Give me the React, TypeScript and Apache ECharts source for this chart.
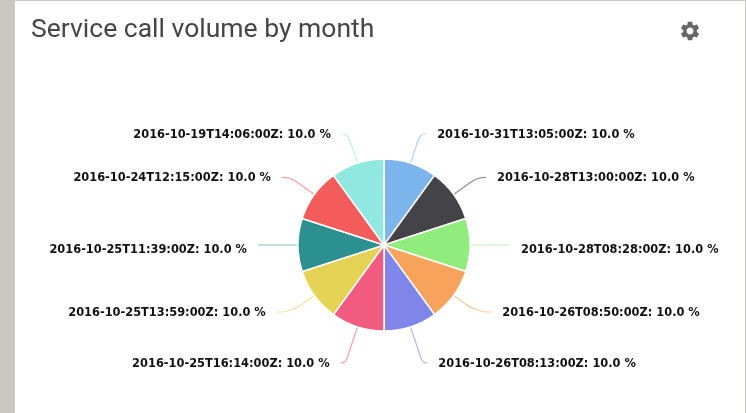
import React, { useEffect, useRef } from "react";
import * as echarts from "echarts";

const titleText = "Service call volume by month";
const categories = [
  "2016-10-31T13:05:00Z",
  "2016-10-28T13:00:00Z",
  "2016-10-28T08:28:00Z",
  "2016-10-26T08:50:00Z",
  "2016-10-26T08:13:00Z",
  "2016-10-25T16:14:00Z",
  "2016-10-25T13:59:00Z",
  "2016-10-25T11:39:00Z",
  "2016-10-24T12:15:00Z",
  "2016-10-19T14:06:00Z",
];
const values = [10, 10, 10, 10, 10, 10, 10, 10, 10, 10];
const colors = ["#7cb5ec", "#434348", "#90ed7d", "#f7a35c", "#8085e9", "#f15c80", "#e4d354", "#2b908f", "#f45b5b", "#91e8e1"];
const lineLengths = [31, 29, 10, 28, 38, 38, 28, 10, 29, 31];
const lineTails = [6, 9, 30, 15, 5, 5, 15, 30, 9, 6];
const droppedLabels = ["2016-10-28T08:28:00Z", "2016-10-25T11:39:00Z"];

const gear =
  "M19.14,12.94c.04-.3.06-.61.06-.94 0-.32-.02-.64-.07-.94l2.03-1.58c.18-.14.23-.41.12-.61l-1.92-3.32c-.12-.22-.37-.29-.59-.22l-2.39.96c-.5-.38-1.03-.7-1.62-.94L14.4,2.81c-.04-.24-.24-.41-.48-.41h-3.84c-.24,0-.43.17-.47.41L9.25,5.35C8.66,5.59,8.12,5.92,7.63,6.29L5.24,5.33c-.22-.08-.47,0-.59.22L2.74,8.87c-.12.21-.08.47.12.61l2.03,1.58c-.05.3-.09.63-.09.94s.02.64.07.94l-2.03,1.58c-.18.14-.23.41-.12.61l1.92,3.32c.12.22.37.29.59.22l2.39-.96c.5.38,1.03.7,1.62.94l.36,2.54c.05.24.24.41.48.41h3.84c.24,0,.44-.17.47-.41l.36-2.54c.59-.24,1.13-.56,1.62-.94l2.39.96c.22.08.47,0,.59-.22l1.92-3.32c.12-.22.07-.47-.12-.61l-2.01-1.58zM12,15.6c-1.98,0-3.6-1.62-3.6-3.6s1.62-3.6,3.6-3.6 3.6,1.62 3.6,3.6-1.62,3.6-3.6,3.6z";

echarts.graphic.registerShape("gear", echarts.graphic.extendPath(gear, {}));

const labelFont = { fontFamily: "DejaVu Sans", fontWeight: "bold", fontSize: 11.4, color: "#111111" };

export default function App() {
  const ref = useRef<HTMLDivElement>(null);
  useEffect(() => {
    const chart = echarts.init(ref.current!, undefined, { renderer: "svg" });
    chart.setOption({
      animation: false,
      backgroundColor: "#c9c7c1",
      title: {
        text: titleText,
        left: 26,
        top: 9,
        textStyle: { fontFamily: "Roboto", fontSize: 26.5, fontWeight: 400, color: "#454545" },
      },
      graphic: [
        { type: "rect", z: -1, shape: { x: 15, y: 1, width: 730, height: 412 }, style: { fill: "#ffffff" } },
        { type: "gear", x: 678.5, y: 19.5, scaleX: 0.96, scaleY: 0.96, style: { fill: "#666666" } },
      ],
      series: [
        {
          type: "pie",
          center: [384, 245],
          radius: [0, 86],
          startAngle: 90,
          clockwise: true,
          avoidLabelOverlap: false,
          itemStyle: { borderColor: "#ffffff", borderWidth: 1.5 },
          label: {
            show: true,
            position: "outside",
            ...labelFont,
            distanceToLabelLine: 11,
            formatter: (p: any) => {
              const text = `${p.name}: ${p.percent.toFixed(1)} %`;
              return droppedLabels.includes(p.name) ? `{low|${text}}` : text;
            },
            rich: { low: { ...labelFont, padding: [8, 0, 0, 0] } },
          },
          labelLine: { show: true, smooth: 0.5, lineStyle: { width: 1.2, opacity: 0.6 } },
          data: categories.map((name, i) => ({
            name,
            value: values[i],
            itemStyle: { color: colors[i] },
            labelLine: { length: lineLengths[i], length2: lineTails[i] },
          })),
        },
      ],
    });
    return () => chart.dispose();
  }, []);
  return <div ref={ref} style={{ position: "fixed", left: 0, top: 0, width: 746, height: 413, filter: "blur(0.5px)" }} />;
}
